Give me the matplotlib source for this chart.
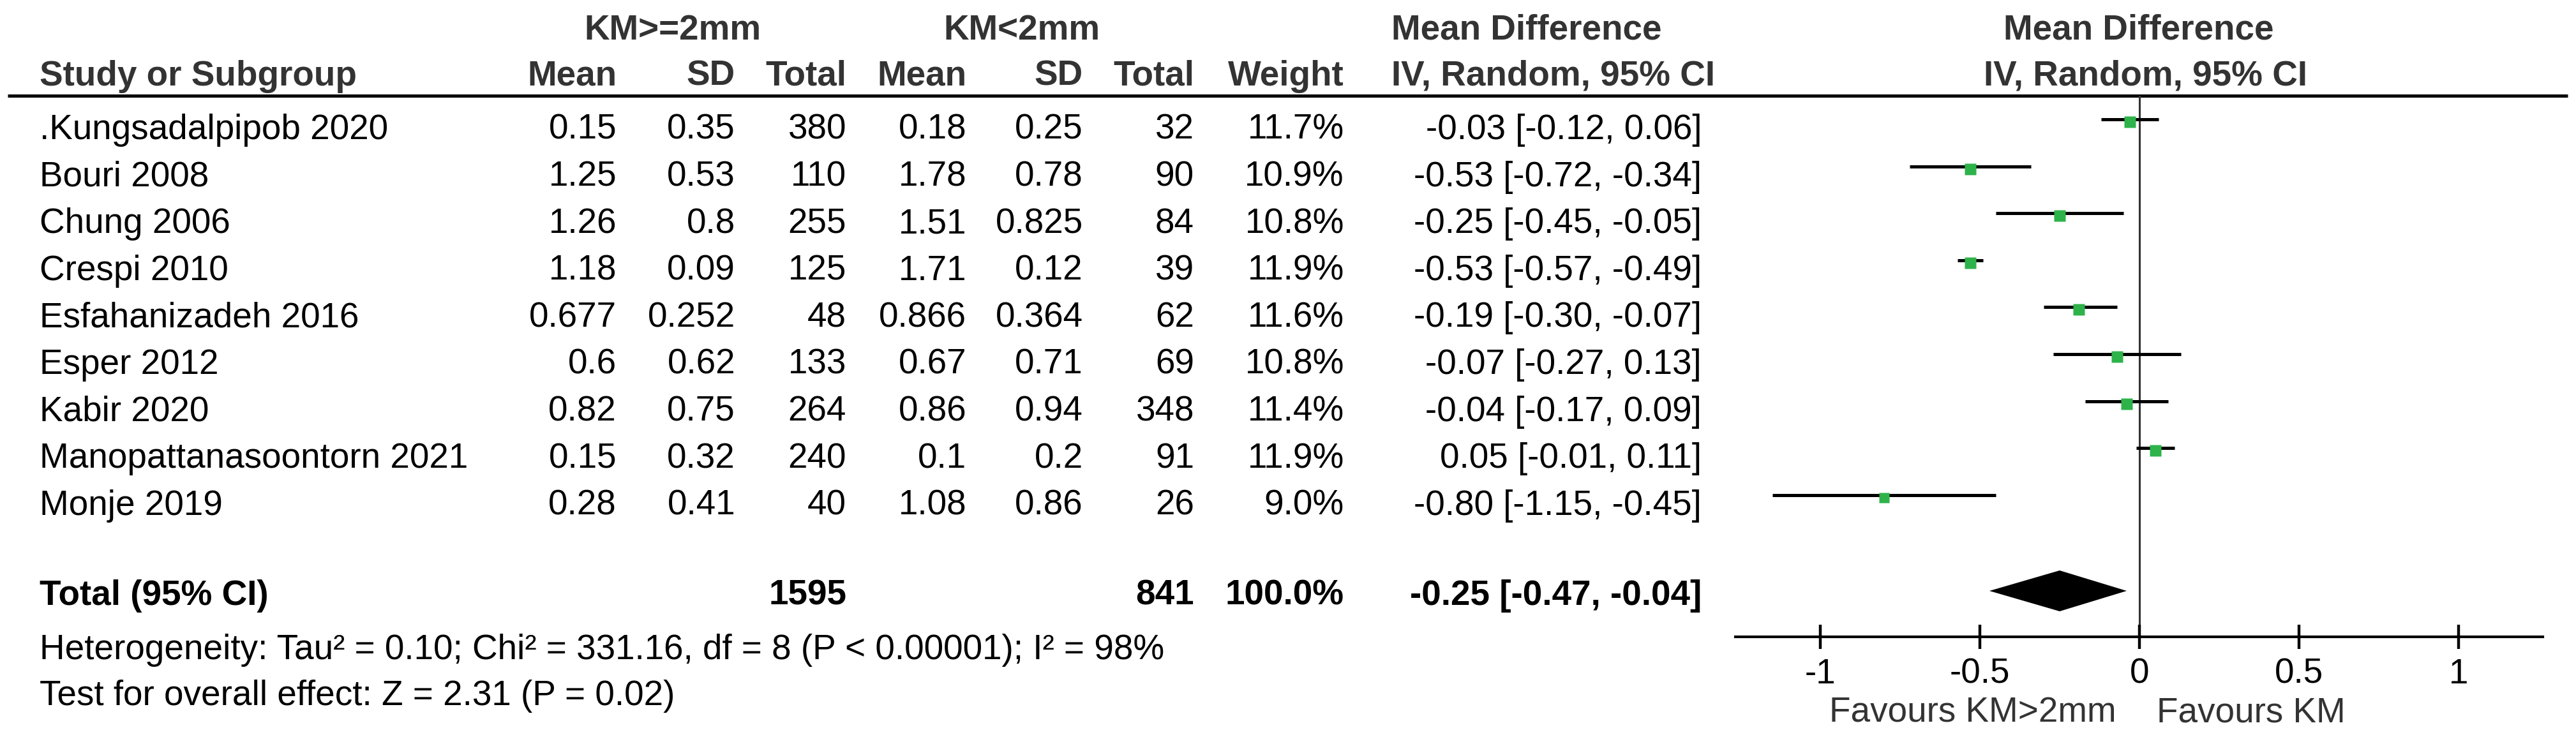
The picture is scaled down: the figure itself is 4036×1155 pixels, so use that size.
import matplotlib
matplotlib.use("Agg")
import matplotlib.pyplot as plt
import numpy as np

plt.rcParams["font.family"] = ["Liberation Sans", "DejaVu Sans"]

# ---- data ----
studies = [".Kungsadalpipob 2020", "Bouri 2008", "Chung 2006", "Crespi 2010",
           "Esfahanizadeh 2016", "Esper 2012", "Kabir 2020",
           "Manopattanasoontorn 2021", "Monje 2019"]
mean_a = [0.15, 1.25, 1.26, 1.18, 0.677, 0.6, 0.82, 0.15, 0.28]
sd_a = [0.35, 0.53, 0.8, 0.09, 0.252, 0.62, 0.75, 0.32, 0.41]
n_a = [380, 110, 255, 125, 48, 133, 264, 240, 40]
mean_b = [0.18, 1.78, 1.51, 1.71, 0.866, 0.67, 0.86, 0.1, 1.08]
sd_b = [0.25, 0.78, 0.825, 0.12, 0.364, 0.71, 0.94, 0.2, 0.86]
n_b = [32, 90, 84, 39, 62, 69, 348, 91, 26]
weight = [11.7, 10.9, 10.8, 11.9, 11.6, 10.8, 11.4, 11.9, 9.0]
md = [-0.03, -0.53, -0.25, -0.53, -0.19, -0.07, -0.04, 0.05, -0.80]
ci_lo = [-0.12, -0.72, -0.45, -0.57, -0.30, -0.27, -0.17, -0.01, -1.15]
ci_hi = [0.06, -0.34, -0.05, -0.49, -0.07, 0.13, 0.09, 0.11, -0.45]

total_n_a, total_n_b = 1595, 841
total_md, total_lo, total_hi = -0.25, -0.47, -0.04
het_text = "Heterogeneity: Tau² = 0.10; Chi² = 331.16, df = 8 (P < 0.00001); I² = 98%"
test_text = "Test for overall effect: Z = 2.31 (P = 0.02)"
xticks = [-1, -0.5, 0, 0.5, 1]
xticklabels = ["-1", "-0.5", "0", "0.5", "1"]

# ---- layout (pixels) ----
W, H, DPI = 4036, 1155, 100
FS = 39.5
HEAD = "#333333"
GREEN = "#2DB34A"
row0, dy = 187, 73.6           # CI line y of first study, row pitch
base_off = 31                  # text baseline below CI line
x_name = 62
col_r = dict(ma=966, sa=1152, na=1326, mb=1514, sb=1697, nb=1871, w=2106, ci=2666)
fx0, fx1 = 2719, 3984          # forest axis in px
xlim = (-1.266, 1.264)
fy0, fy1 = 150, 998            # header rule -> x axis

fig = plt.figure(figsize=(W / DPI, H / DPI), dpi=DPI)
tab = fig.add_axes([0, 0, 1, 1])
tab.set_xlim(0, W)
tab.set_ylim(H, 0)
tab.axis("off")


def t(x, y, s, ha="left", bold=False, color="black"):
    tab.text(x, y, s, ha=ha, va="baseline", fontsize=FS, color=color,
             fontweight="bold" if bold else "normal")


# headers
t(1054, 62, "KM>=2mm", ha="center", bold=True, color=HEAD)
t(1601, 62, "KM<2mm", ha="center", bold=True, color=HEAD)
t(2180, 62, "Mean Difference", bold=True, color=HEAD)
t(3351, 62, "Mean Difference", ha="center", bold=True, color=HEAD)
hy = 134
t(x_name, hy, "Study or Subgroup", bold=True, color=HEAD)
for key, lab in [("ma", "Mean"), ("sa", "SD"), ("na", "Total"), ("mb", "Mean"),
                 ("sb", "SD"), ("nb", "Total"), ("w", "Weight")]:
    t(col_r[key], hy, lab, ha="right", bold=True, color=HEAD)
t(2180, hy, "IV, Random, 95% CI", bold=True, color=HEAD)
t(3362, hy, "IV, Random, 95% CI", ha="center", bold=True, color=HEAD)
tab.plot([12, 4023], [150, 150], color="black", lw=3.6, solid_capstyle="butt")

# study rows
for i, name in enumerate(studies):
    y = row0 + i * dy + base_off
    t(x_name, y, name)
    t(col_r["ma"], y, str(mean_a[i]), ha="right")
    t(col_r["sa"], y, str(sd_a[i]), ha="right")
    t(col_r["na"], y, str(n_a[i]), ha="right")
    t(col_r["mb"], y, str(mean_b[i]), ha="right")
    t(col_r["sb"], y, str(sd_b[i]), ha="right")
    t(col_r["nb"], y, str(n_b[i]), ha="right")
    t(col_r["w"], y, f"{weight[i]:.1f}%", ha="right")
    t(col_r["ci"], y, f"{md[i]:.2f} [{ci_lo[i]:.2f}, {ci_hi[i]:.2f}]", ha="right")

# total + footnotes
ty = 948
t(x_name, ty, "Total (95% CI)", bold=True)
t(col_r["na"], ty, str(total_n_a), ha="right", bold=True)
t(col_r["nb"], ty, str(total_n_b), ha="right", bold=True)
t(col_r["w"], ty, f"{sum(weight):.1f}%", ha="right", bold=True)
t(col_r["ci"], ty, f"{total_md:.2f} [{total_lo:.2f}, {total_hi:.2f}]", ha="right", bold=True)
t(x_name, 1033, het_text)
t(x_name, 1105, test_text)

# ---- forest panel ----
fa = fig.add_axes([fx0 / W, 1 - fy1 / H, (fx1 - fx0) / W, (fy1 - fy0) / H])
fa.patch.set_alpha(0)
fa.set_xlim(*xlim)
r_top = (fy0 - row0) / dy
r_bot = (fy1 - row0) / dy
fa.set_ylim(r_bot, r_top)
for s in ("top", "left", "right"):
    fa.spines[s].set_visible(False)
fa.spines["bottom"].set_linewidth(3.0)
fa.set_yticks([])
fa.set_xticks(xticks)
fa.set_xticklabels(xticklabels)
fa.tick_params(axis="x", direction="inout", length=27, width=3.2, pad=10,
               labelsize=FS)
fa.axvline(0, color="#333333", lw=2.2, zorder=1)

rows = np.arange(len(studies))
fa.hlines(rows, ci_lo, ci_hi, color="black", lw=3.6, zorder=2)
msize = [5.4 * np.sqrt(w) * 0.72 for w in weight]
for r, m, ms in zip(rows, md, msize):
    fa.plot(m, r + 4 / dy, marker="s", ms=ms, color=GREEN, mec="none", zorder=3)

tr = (926 - row0) / dy
hd = 32 / dy
fa.fill([total_lo, total_md, total_hi, total_md],
        [tr, tr - hd, tr, tr + hd], color="black", lw=0, zorder=3)

fav_y = (1132 - row0) / dy
fa.text(-0.072, fav_y, "Favours KM>2mm", ha="right", va="baseline",
        fontsize=FS, color=HEAD, clip_on=False)
fa.text(0.054, fav_y, "Favours KM", ha="left", va="baseline",
        fontsize=FS, color=HEAD, clip_on=False)

fig.savefig("out.png", dpi=DPI)
